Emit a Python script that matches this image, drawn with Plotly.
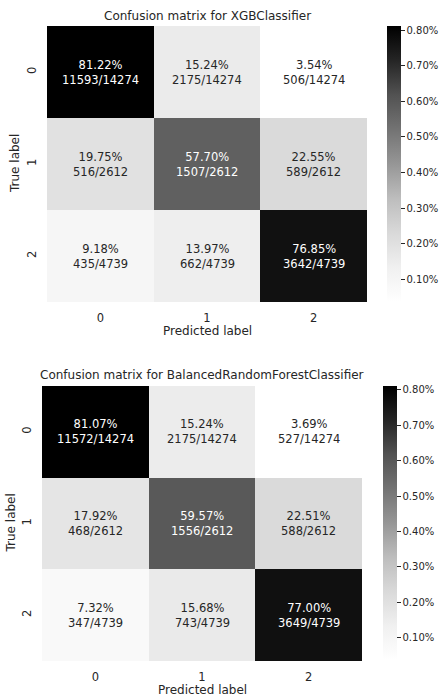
import numpy as np
import plotly.graph_objects as go

# Class labels shared by both classifiers
labels = ["0", "1", "2"]

# Confusion-matrix counts (rows: true label, columns: predicted label)
xgb_counts = [
    [11593, 2175, 506],
    [516, 1507, 589],
    [435, 662, 3642],
]
brf_counts = [
    [11572, 2175, 527],
    [468, 1556, 588],
    [347, 743, 3649],
]

models = ["XGBClassifier", "BalancedRandomForestClassifier"]
cbar_ticks = [0.1, 0.2, 0.3, 0.4, 0.5, 0.6, 0.7, 0.8]

FONT = "DejaVu Sans"
TXT = "#262626"
W, H = 447, 698

# ColorBrewer "Greys" ramp (white -> black)
greys = ["#ffffff", "#f0f0f0", "#d9d9d9", "#bdbdbd", "#969696",
         "#737373", "#525252", "#252525", "#000000"]
stops = np.linspace(0, 1, len(greys))
colorscale = [[float(s), c] for s, c in zip(stops, greys)]
grey_levels = [int(c[1:3], 16) for c in greys]

# Pixel boxes for each panel: heatmap (x0, x1, y0, y1), colorbar (x, y0, y1)
panels = [
    dict(hm=(47, 367, 26, 302), cb=(387, 26, 302), title_y=16,
         xt_y=331, yt_x=15),
    dict(hm=(42, 362, 386, 661), cb=(383, 386, 660), title_y=375,
         xt_y=690, yt_x=10),
]


def px_x(v):
    return v / W


def px_y(v):
    return 1 - v / H


fig = go.Figure()
annotations = []

for i, (name, counts, p) in enumerate(zip(models, [xgb_counts, brf_counts], panels)):
    counts = np.array(counts, dtype=float)
    totals = counts.sum(axis=1, keepdims=True)
    frac = counts / totals
    vmin, vmax = frac.min(), frac.max()

    suffix = "" if i == 0 else str(i + 1)
    xa, ya, ca = "x" + suffix, "y" + suffix, "coloraxis" + suffix

    fig.add_trace(go.Heatmap(
        z=frac, x=labels, y=labels, coloraxis=ca,
        xaxis=xa, yaxis=ya, hoverinfo="skip",
    ))

    # Cell annotations: percentage over count/total
    for r in range(3):
        for c in range(3):
            t = (frac[r, c] - vmin) / (vmax - vmin)
            g = np.interp(t, stops, grey_levels) / 255.0
            color = TXT if g > 0.408 else "white"
            annotations.append(dict(
                x=labels[c], y=labels[r], xref=xa, yref=ya,
                text=f"{frac[r, c]:.2%}<br>{int(counts[r, c])}/{int(totals[r, 0])}",
                showarrow=False, font=dict(family=FONT, size=11.5, color=color),
            ))

    x0, x1, y0, y1 = p["hm"]
    axis_common = dict(showgrid=False, zeroline=False, showline=False,
                       ticks="outside", ticklen=5, tickcolor="rgba(0,0,0,0)",
                       tickfont=dict(family=FONT, size=11.5, color=TXT))
    fig.layout["xaxis" + suffix] = dict(
        domain=[px_x(x0), px_x(x1)], anchor=ya, type="category", **axis_common)
    fig.layout["yaxis" + suffix] = dict(
        domain=[px_y(y1), px_y(y0)], anchor=xa, type="category",
        autorange="reversed", tickangle=-90, **axis_common)

    cbx, cby0, cby1 = p["cb"]
    fig.layout[ca] = dict(
        colorscale=colorscale, cmin=vmin, cmax=vmax,
        colorbar=dict(
            x=px_x(cbx), xanchor="left", xpad=0, ypad=0,
            y=px_y(cby0), yanchor="top", len=(cby1 - cby0) / H, lenmode="fraction",
            thickness=14, outlinewidth=0,
            tickvals=cbar_ticks, ticktext=[f"{v:.2f}%" for v in cbar_ticks],
            ticks="outside", ticklen=4, tickwidth=1, tickcolor=TXT,
            tickfont=dict(family=FONT, size=10, color=TXT),
        ),
    )

    # Panel title and axis labels
    annotations.append(dict(
        x=px_x((x0 + x1) / 2), y=px_y(p["title_y"]), xref="paper", yref="paper",
        text=f"Confusion matrix for {name}", showarrow=False,
        xanchor="center", yanchor="middle",
        font=dict(family=FONT, size=12, color=TXT)))
    annotations.append(dict(
        x=px_x((x0 + x1) / 2), y=px_y(p["xt_y"]), xref="paper", yref="paper",
        text="Predicted label", showarrow=False,
        xanchor="center", yanchor="middle",
        font=dict(family=FONT, size=12, color=TXT)))
    annotations.append(dict(
        x=px_x(p["yt_x"]), y=px_y((y0 + y1) / 2), xref="paper", yref="paper",
        text="True label", showarrow=False, textangle=-90,
        xanchor="center", yanchor="middle",
        font=dict(family=FONT, size=12, color=TXT)))

fig.update_layout(
    width=W, height=H, margin=dict(l=0, r=0, t=0, b=0),
    paper_bgcolor="white", plot_bgcolor="white",
    annotations=annotations, showlegend=False,
)

fig.write_html("out.html")
